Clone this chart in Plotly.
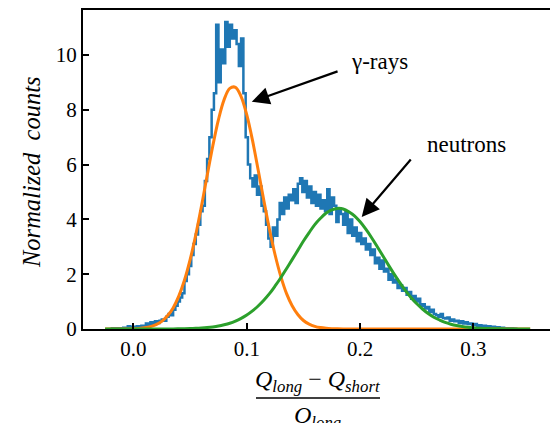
import numpy as np
import plotly.graph_objects as go

# ---------------- data ----------------
# step histogram of the PSD parameter (bin width 0.002)
hist_start = -0.021
hist_width = 0.002
hist_counts = [
    0.00, 0.03, 0.00, 0.03, 0.00, 0.03, 0.05, 0.03, 0.10, 0.05,
    0.08, 0.05, 0.10, 0.08, 0.12, 0.08, 0.20, 0.15, 0.25, 0.18,
    0.28, 0.22, 0.30, 0.35, 0.30, 0.45, 0.55, 0.50, 0.70, 0.85,
    1.00, 1.15, 1.30, 1.75, 2.00, 2.30, 2.70, 3.10, 3.45, 3.80,
    4.30, 4.50, 5.40, 6.20, 7.00, 8.00, 8.60, 11.10, 9.00, 10.20,
    9.70, 11.20, 10.30, 11.10, 10.60, 10.90, 10.40, 9.60, 10.60, 8.60,
    7.00, 6.00, 5.50, 5.20, 5.60, 4.90, 5.20, 4.50, 4.30, 3.80,
    3.30, 3.00, 3.70, 3.40, 4.00, 4.60, 4.20, 4.80, 4.40, 4.90,
    4.70, 5.10, 4.60, 5.30, 5.50, 5.00, 5.40, 4.80, 5.20, 4.60,
    5.00, 4.50, 4.90, 4.40, 4.70, 4.30, 5.10, 4.20, 4.80, 4.50,
    3.90, 4.40, 4.20, 3.80, 4.30, 3.50, 4.00, 3.40, 3.70, 3.20,
    3.50, 3.10, 3.30, 2.90, 3.10, 2.70, 2.90, 2.40, 2.60, 2.20,
    2.50, 2.10, 2.20, 1.80, 2.00, 1.70, 1.80, 1.50, 1.60, 1.40,
    1.50, 1.25, 1.35, 1.10, 1.20, 1.00, 1.10, 0.85, 0.90, 0.75,
    0.80, 0.62, 0.70, 0.55, 0.50, 0.45, 0.55, 0.40, 0.38, 0.42,
    0.30, 0.35, 0.28, 0.30, 0.22, 0.28, 0.20, 0.25, 0.18, 0.20,
    0.15, 0.18, 0.12, 0.14, 0.10, 0.12, 0.08, 0.10, 0.06, 0.08,
    0.05, 0.06, 0.04, 0.05, 0.03, 0.03, 0.02, 0.03, 0.02, 0.01,
]

# fitted curves sampled every 0.005 from -0.025 to 0.350
curve_start = -0.025
curve_step = 0.005
gamma_fit = [
    0.000, 0.000, 0.001, 0.002, 0.004, 0.010, 0.022, 0.045, 0.087, 0.16,
    0.28, 0.48, 0.77, 1.20, 1.78, 2.53, 3.44, 4.48, 5.59, 6.68,
    7.64, 8.37, 8.78, 8.82, 8.48, 7.81, 6.89, 5.81, 4.70, 3.64,
    2.70, 1.92, 1.30, 0.85, 0.53, 0.31, 0.18, 0.098, 0.051, 0.026,
    0.012, 0.005, 0.002, 0.001,
    0, 0, 0, 0, 0, 0, 0, 0, 0, 0, 0, 0, 0, 0, 0, 0,
    0, 0, 0, 0, 0, 0, 0, 0, 0, 0, 0, 0, 0, 0, 0, 0,
]
neutron_fit = [
    0, 0, 0, 0, 0, 0, 0, 0, 0, 0, 0,
    0.003, 0.004, 0.007, 0.011, 0.016, 0.024, 0.036, 0.053, 0.077, 0.109,
    0.154, 0.21, 0.29, 0.39, 0.51, 0.66, 0.84, 1.05, 1.29, 1.57,
    1.87, 2.20, 2.53, 2.87, 3.21, 3.52, 3.81, 4.04, 4.23, 4.35,
    4.40, 4.38, 4.28, 4.13, 3.91, 3.64, 3.34, 3.01, 2.67, 2.33,
    2.00, 1.69, 1.40, 1.14, 0.92, 0.73, 0.565, 0.43, 0.33, 0.24,
    0.175, 0.125, 0.088, 0.061, 0.042, 0.029, 0.019, 0.013, 0.008, 0.005,
    0.003, 0.002, 0.001, 0.000, 0.000,
]

x_ticks = [0.0, 0.1, 0.2, 0.3]
x_ticklabels = ["0.0", "0.1", "0.2", "0.3"]
y_ticks = [0, 2, 4, 6, 8, 10]
y_ticklabels = ["0", "2", "4", "6", "8", "10"]

gamma_label = "γ-rays"
neutron_label = "neutrons"

# ---------------- figure ----------------
W, H = 550, 423
ML, MR, MT, MB = 83, 0, 10, 94
XR = [-0.0445, 0.3675]
YR = [0, 11.64]
FONT = "Liberation Serif"

edges = hist_start + hist_width * np.arange(len(hist_counts) + 1)
hx = list(edges)
hy = list(hist_counts) + [hist_counts[-1]]
cx = curve_start + curve_step * np.arange(len(gamma_fit))

fig = go.Figure()
fig.add_trace(go.Scatter(x=hx, y=hy, mode="lines", line_shape="hv",
                         line=dict(color="#1f77b4", width=2.5), hoverinfo="skip"))
fig.add_trace(go.Scatter(x=cx, y=gamma_fit, mode="lines", line_shape="spline",
                         line=dict(color="#ff7f0e", width=3), hoverinfo="skip"))
fig.add_trace(go.Scatter(x=cx, y=neutron_fit, mode="lines", line_shape="spline",
                         line=dict(color="#2ca02c", width=3), hoverinfo="skip"))

ph = H - MT - MB
pw = W - ML - MR


def py(pix):
    """pixel row -> paper y"""
    return (H - MB - pix) / ph


def px(pix):
    """pixel column -> paper x"""
    return (pix - ML) / pw


annotations = [
    dict(x=0.1044, y=8.29, ax=0.1814, ay=9.42, xref="x", yref="y", axref="x", ayref="y",
         text="", showarrow=True, arrowhead=2, arrowsize=1.6, arrowwidth=2.2,
         arrowcolor="black", standoff=0),
    dict(x=0.2014, y=4.09, ax=0.2458, ay=6.24, xref="x", yref="y", axref="x", ayref="y",
         text="", showarrow=True, arrowhead=2, arrowsize=1.6, arrowwidth=2.2,
         arrowcolor="black", standoff=0),
    dict(x=0.2167, y=9.75, xref="x", yref="y", text=gamma_label, showarrow=False,
         font=dict(family=FONT, size=23, color="black"), xanchor="center", yanchor="middle"),
    dict(x=0.2934, y=6.75, xref="x", yref="y", text=neutron_label, showarrow=False,
         font=dict(family=FONT, size=23, color="black"), xanchor="center", yanchor="middle"),
    dict(x=px(31), y=py(172), xref="paper", yref="paper", text="<i>Normalized&nbsp;&nbsp;counts</i>",
         textangle=-90, showarrow=False, font=dict(family=FONT, size=24.5, color="black"),
         xanchor="center", yanchor="middle"),
    dict(x=px(317), y=py(381), xref="paper", yref="paper",
         text="<i>Q<sub>long</sub></i> − <i>Q<sub>short</sub></i>",
         showarrow=False, font=dict(family=FONT, size=24, color="black"),
         xanchor="center", yanchor="middle"),
    dict(x=px(317), y=py(400), xref="paper", yref="paper",
         text="<i>Q<sub>long</sub></i>",
         showarrow=False, font=dict(family=FONT, size=24, color="black"),
         xanchor="center", yanchor="top"),
]

shapes = [
    dict(type="line", xref="paper", yref="paper", x0=px(256), x1=px(380), y0=py(398), y1=py(398),
         line=dict(color="black", width=1.3)),
]

fig.update_layout(
    width=W, height=H,
    margin=dict(l=ML, r=MR, t=MT, b=MB, pad=0, autoexpand=False),
    paper_bgcolor="white", plot_bgcolor="white",
    showlegend=False,
    font=dict(family=FONT, size=21, color="black"),
    annotations=annotations,
    shapes=shapes,
    xaxis=dict(range=XR, tickvals=x_ticks, ticktext=x_ticklabels, ticks="inside",
               ticklen=6, tickwidth=1.8, tickcolor="black", showgrid=False, zeroline=False,
               showline=True, linecolor="black", linewidth=2, mirror=True, automargin=False,
               tickfont=dict(family=FONT, size=21, color="black")),
    yaxis=dict(range=YR, tickvals=y_ticks, ticktext=y_ticklabels, ticks="inside",
               ticklen=6, tickwidth=1.8, tickcolor="black", showgrid=False, zeroline=False,
               showline=True, linecolor="black", linewidth=2, mirror=True, automargin=False,
               tickfont=dict(family=FONT, size=21, color="black")),
)

fig.write_html("out.html", config={"displayModeBar": False},
               post_script="document.body.style.margin='0';document.body.style.overflow='hidden';")
